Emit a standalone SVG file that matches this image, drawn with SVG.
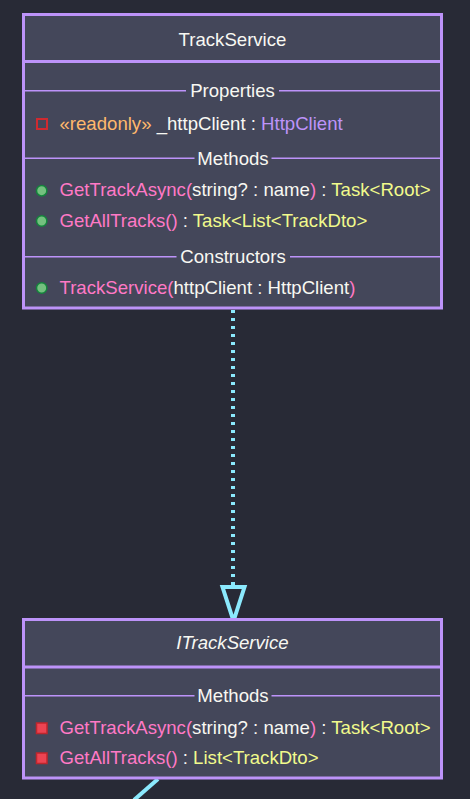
<svg xmlns="http://www.w3.org/2000/svg" width="470" height="799" viewBox="0 0 470 799">
<style>
text{font-family:"Liberation Sans",Arial,sans-serif;font-size:18.6px;fill:#f8f8f2}
.box{fill:#44475a;stroke:#bd93f9;stroke-width:3}
.sep{stroke:#bd93f9;stroke-width:3}
.sec{stroke:#bd93f9;stroke-width:1.5}
.title{text-anchor:middle}
.c{text-anchor:middle}
.pk{fill:#ff79c6}
.yl{fill:#f1fa8c}
.or{fill:#ffb86c}
.pu{fill:#bd93f9}
.pub{fill:#74c07f;stroke:#14843c;stroke-width:1.5}
.priv{fill:none;stroke:#cf2a30;stroke-width:2}
.privf{fill:#ec4452;stroke:#c0262d;stroke-width:1.5}
.conn{stroke:#8be9fd;stroke-width:4;fill:none}
</style>
<rect width="470" height="799" fill="#282a36"/>
<g id="connectors">
<line class="conn" x1="233" y1="310" x2="233" y2="586" stroke-dasharray="3 5"/>
<polygon class="conn" points="222.5,587 244.5,587 233.5,621" stroke-linejoin="miter"/>
<line class="conn" x1="158" y1="779" x2="134" y2="800"/>
</g>
<g id="TrackService">
<rect class="box" x="23.5" y="14.5" width="418" height="293.5"/>
<line class="sep" x1="23.5" y1="61.5" x2="441.5" y2="61.5"/>
<text class="title" x="232.5" y="46">TrackService</text>
<line class="sec" x1="23.5" y1="90.7" x2="186" y2="90.7"/>
<line class="sec" x1="279" y1="90.7" x2="441.5" y2="90.7"/>
<text class="c" x="232.5" y="97">Properties</text>
<rect class="priv" x="37" y="119" width="10" height="10"/>
<text x="59.5" y="129.5"><tspan class="or">«readonly»</tspan> _httpClient : <tspan class="pu">HttpClient</tspan></text>
<line class="sec" x1="23.5" y1="158.3" x2="194.5" y2="158.3"/>
<line class="sec" x1="271.5" y1="158.3" x2="441.5" y2="158.3"/>
<text class="c" x="233" y="164.5">Methods</text>
<circle class="pub" cx="41.7" cy="190.7" r="5.2"/>
<text x="59.5" y="196"><tspan class="pk">GetTrackAsync(</tspan>string? : name<tspan class="pk">)</tspan> : <tspan class="yl">Task&lt;Root&gt;</tspan></text>
<circle class="pub" cx="41.7" cy="221" r="5.2"/>
<text x="59.5" y="226.5"><tspan class="pk">GetAllTracks()</tspan> : <tspan class="yl">Task&lt;List&lt;TrackDto&gt;</tspan></text>
<line class="sec" x1="23.5" y1="256.7" x2="176.5" y2="256.7"/>
<line class="sec" x1="290" y1="256.7" x2="441.5" y2="256.7"/>
<text class="c" x="233" y="263">Constructors</text>
<circle class="pub" cx="41.7" cy="288" r="5.2"/>
<text x="59.5" y="293.5"><tspan class="pk">TrackService(</tspan>httpClient : HttpClient<tspan class="pk">)</tspan></text>
</g>
<g id="ITrackService">
<rect class="box" x="23.5" y="619.5" width="418" height="158.5"/>
<line class="sep" x1="23.5" y1="667" x2="441.5" y2="667"/>
<text class="title" x="232.5" y="648.5" font-style="italic">ITrackService</text>
<line class="sec" x1="23.5" y1="695.7" x2="194.5" y2="695.7"/>
<line class="sec" x1="271.5" y1="695.7" x2="441.5" y2="695.7"/>
<text class="c" x="233" y="702">Methods</text>
<rect class="privf" x="36.5" y="723" width="10.5" height="10.5"/>
<text x="59.5" y="733.8"><tspan class="pk">GetTrackAsync(</tspan>string? : name<tspan class="pk">)</tspan> : <tspan class="yl">Task&lt;Root&gt;</tspan></text>
<rect class="privf" x="36.5" y="753" width="10.5" height="10.5"/>
<text x="59.5" y="764"><tspan class="pk">GetAllTracks()</tspan> : <tspan class="yl">List&lt;TrackDto&gt;</tspan></text>
</g>
</svg>
